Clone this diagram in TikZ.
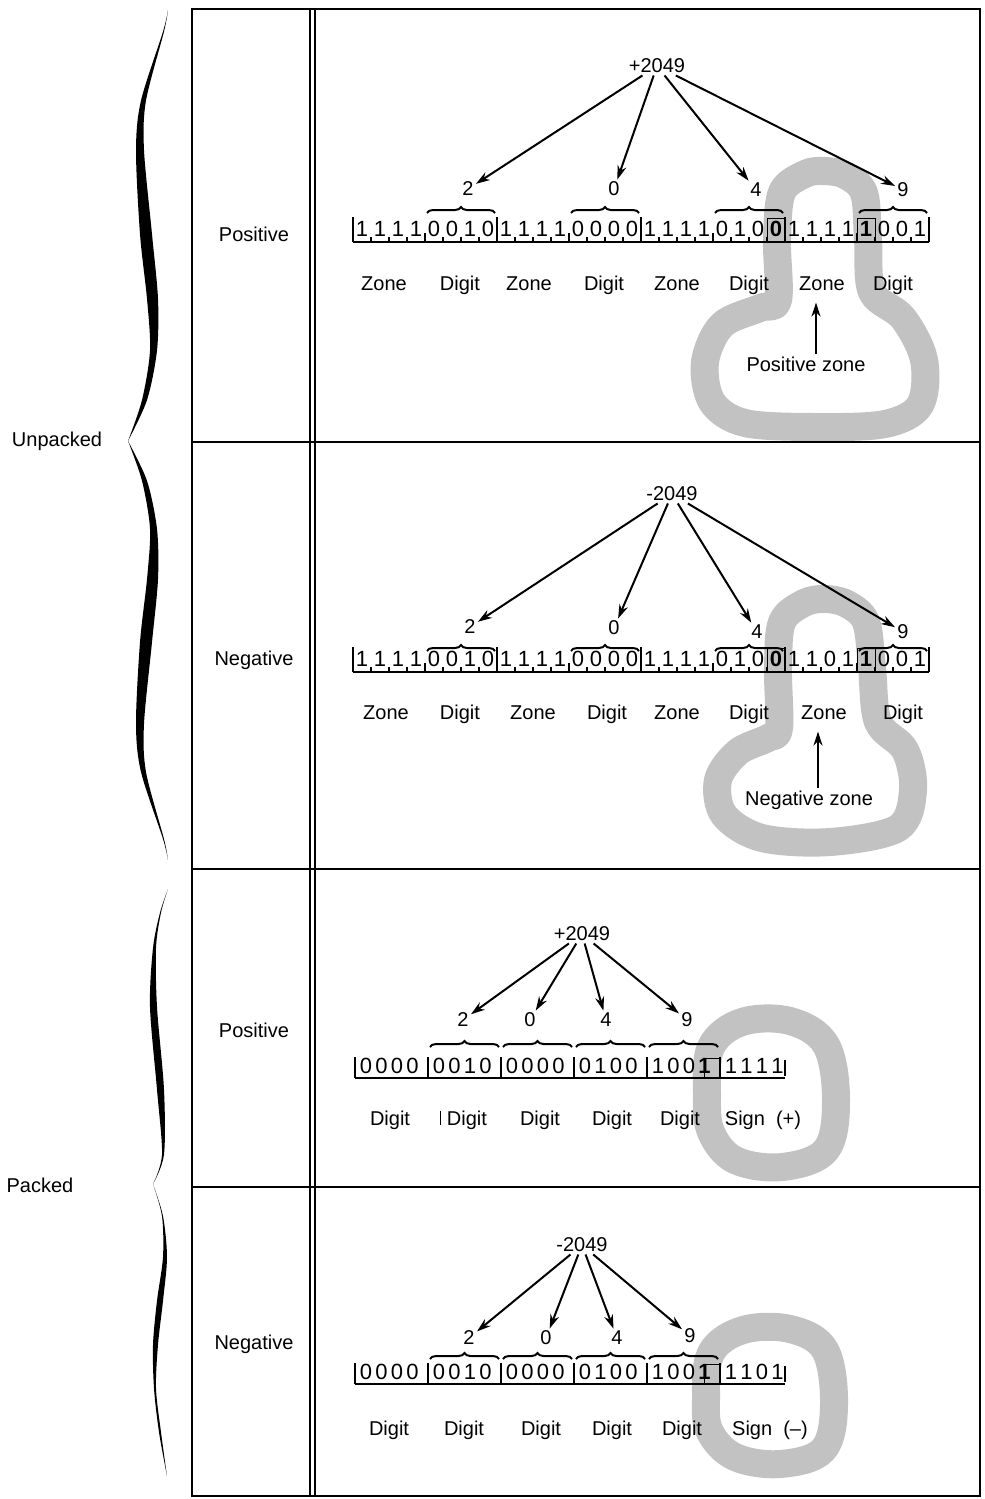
\documentclass[tikz,border=0pt]{standalone}
\usepackage{fontspec}
\setmainfont{Liberation Sans}
\usetikzlibrary{arrows.meta,decorations.pathreplacing}

\tikzset{
  lbl/.style={font=\fontsize{10}{12}\selectfont, inner sep=1pt},
  wlbl/.style={font=\fontsize{10}{12}\selectfont, inner sep=1pt, anchor=base},
  bit/.style={font=\fontsize{11}{13}\selectfont, inner sep=0pt},
  arr/.style={-{Stealth[length=7pt,width=4.5pt]}, line width=1pt},
  frameline/.style={line width=1.3pt},
  blob/.style={line width=14pt, draw=black!24, line join=round},
  nibbrace/.style={decorate, decoration={brace, amplitude=3pt}, line width=1pt},
  rowline/.style={line width=0.6pt},
  hilite/.style={line width=0.5pt},
}

\newcommand{\unpkrow}[3]{%
  \foreach \b [count=\k from 0] in {#3} {
    \pgfmathtruncatemacro\nbk{int(\k/4)}
    \pgfmathtruncatemacro\bik{mod(\k,4)}
    \pgfmathsetmacro\xx{353+72*\nbk+9+18*\bik}
    \node[bit, anchor=base] (#1-\k) at (\xx,#2) {\b};
  }
  \draw[rowline] (353,#2+6) -- (929,#2+6);
  \foreach \k in {0,...,32} {
    \pgfmathsetmacro\hh{mod(\k,8)==0 ? 25 : (mod(\k,4)==0 ? 9 : 5)}
    \draw[rowline] (353+18*\k,#2+6) -- ++(0,-\hh);
  }
}

\newcommand{\pkrow}[3]{%
  \foreach \b [count=\k from 0] in {#3} {
    \pgfmathtruncatemacro\nbk{int(\k/4)}
    \pgfmathtruncatemacro\bik{mod(\k,4)}
    \pgfmathsetmacro\xx{355+73*\nbk+11+15.5*\bik}
    \node[bit, anchor=base] (#1-\k) at (\xx,#2) {\b};
  }
  \draw[rowline] (355,#2+5) -- (785,#2+5);
  \foreach \i in {0,...,5} \draw[rowline] (355+73*\i,#2+5) -- ++(0,-21);
  \draw[rowline] (785,#2+3) -- ++(0,-16);
}

\begin{document}
\begin{tikzpicture}[x=0.5pt,y=-0.5pt]
\useasboundingbox (0,0) rectangle (985,1499);

% ---------- shaded blobs ----------
\draw[blob] plot[smooth cycle, tension=0.55] coordinates {(778,300) (777,240) (782,192) (805,174) (823,171) (845,175) (864,193) (868,240) (872,292) (903,318) (924,360) (920,405) (885,424) (815,427) (745,423) (712,402) (705,362) (722,325) (760,308)};
\draw[blob] plot[smooth cycle, tension=0.55] coordinates {(779,728) (778,668) (782,622) (804,603) (825,599) (847,604) (866,622) (872,668) (878,722) (905,750) (913,790) (898,828) (830,842) (762,838) (724,815) (718,780) (738,752) (768,738)};
\draw[blob] plot[smooth cycle, tension=0.6] coordinates {(707,1095) (711,1047) (742,1022) (790,1021) (826,1045) (836,1100) (826,1150) (782,1167) (735,1160) (711,1132)};
\draw[blob] plot[smooth cycle, tension=0.6] coordinates {(706,1400) (711,1353) (743,1330) (790,1329) (825,1350) (834,1405) (823,1450) (780,1464) (735,1457) (710,1432)};

% ---------- frame ----------
\draw[frameline] (192,9) rectangle (980,1496);
\draw[frameline] (192,442) -- (980,442);
\draw[frameline] (192,869) -- (980,869);
\draw[frameline] (192,1187) -- (980,1187);
\draw[line width=0.8pt] (310,9) -- (310,1496);
\draw[line width=0.8pt] (315,9) -- (315,1496);

% ---------- left braces ----------
\begin{scope}[shift={(128,441)}, yscale=431]
\fill plot[smooth] coordinates {(0,0) (14,-.095) (22,-.21) (19,-.33) (12,-.48) (8,-.675) (13,-.79) (35,-.95) (40,-1)} -- plot[smooth] coordinates {(40,-1) (36,-.95) (18,-.79) (16,-.675) (24,-.48) (30,-.33) (29,-.21) (19,-.095) (0,0)} -- cycle;
\end{scope}
\begin{scope}[shift={(128,441)}, yscale=-419]
\fill plot[smooth] coordinates {(0,0) (14,-.095) (22,-.21) (19,-.33) (12,-.48) (8,-.675) (13,-.79) (35,-.95) (40,-1)} -- plot[smooth] coordinates {(40,-1) (36,-.95) (18,-.79) (16,-.675) (24,-.48) (30,-.33) (29,-.21) (19,-.095) (0,0)} -- cycle;
\end{scope}
\begin{scope}[shift={(153,1184)}, yscale=295]
\fill plot[smooth] coordinates {(0,0) (9,-.1) (4,-.32) (-3,-.6) (0,-.8) (7,-.92) (15,-1)} -- plot[smooth] coordinates {(15,-1) (8,-.92) (3,-.8) (4,-.6) (11,-.32) (11,-.1) (0,0)} -- cycle;
\end{scope}
\begin{scope}[shift={(153,1184)}, yscale=292]
\fill plot[smooth] coordinates {(0,0) (9,.11) (10,.25) (4,.4) (0,.55) (1,.7) (6,.85) (14,1)} -- plot[smooth] coordinates {(14,1) (8,.85) (3,.7) (5,.55) (10,.4) (14,.25) (10,.11) (0,0)} -- cycle;
\end{scope}
\node[lbl] (unpacked) at (57,441) {Unpacked};
\node[lbl] (packed) at (40,1185) {Packed};

% ---------- row labels ----------
\node[lbl] (r1) at (254,234) {Positive};
\node[lbl] (r2) at (254,660) {Negative};
\node[lbl] (r3) at (254,1030) {Positive};
\node[lbl] (r4) at (254,1344) {Negative};

% ================= Panel 1 : unpacked positive =================
\node[lbl] (n1) at (657,66) {+2049};
\node[lbl] (a2) at (468,189) {2};
\node[lbl] (a0) at (614,189) {0};
\node[lbl] (a4) at (756,190) {4};
\node[lbl] (a9) at (903,190) {9};
\draw[arr] (n1) -- (a2);
\draw[arr] (n1) -- (a0);
\draw[arr] (n1) -- (a4);
\draw[arr] (n1) -- (a9);
\foreach \s in {425,569,713,857} \draw[nibbrace] (\s+2,213) -- (\s+70,213);
\unpkrow{p}{236}{1,1,1,1,0,0,1,0,1,1,1,1,0,0,0,0,1,1,1,1,0,1,0,\textbf{0},1,1,1,1,\textbf{1},0,0,1}
\draw[hilite] (767,218) rectangle (785,242);
\draw[hilite] (857,218) rectangle (875,242);
\foreach \x/\t [count=\i] in {384/Zone,460/Digit,529/Zone,604/Digit,677/Zone,749/Digit,822/Zone,893/Digit}
  \node[wlbl] (pl\i) at (\x,290) {\t};
\node[wlbl] (pz) at (806,371) {Positive zone};
\draw[arr] ([xshift=5pt]pz.north) -- ([xshift=-3pt,yshift=-5pt]pl7.south);

% ================= Panel 2 : unpacked negative =================
\node[lbl] (n2) at (672,494) {-2049};
\node[lbl] (b2) at (470,627) {2};
\node[lbl] (b0) at (614,628) {0};
\node[lbl] (b4) at (757,632) {4};
\node[lbl] (b9) at (903,632) {9};
\draw[arr] (n2) -- (b2);
\draw[arr] (n2) -- (b0);
\draw[arr] (n2) -- (b4);
\draw[arr] (n2) -- (b9);
\foreach \s in {425,569,713,857} \draw[nibbrace] (\s+2,651) -- (\s+70,651);
\unpkrow{q}{666}{1,1,1,1,0,0,1,0,1,1,1,1,0,0,0,0,1,1,1,1,0,1,0,\textbf{0},1,1,0,1,\textbf{1},0,0,1}
\draw[hilite] (767,648) rectangle (785,672);
\draw[hilite] (857,648) rectangle (875,672);
\foreach \x/\t [count=\i] in {386/Zone,460/Digit,533/Zone,607/Digit,677/Zone,749/Digit,824/Zone,903/Digit}
  \node[wlbl] (ql\i) at (\x,719) {\t};
\node[wlbl] (nz) at (809,805) {Negative zone};
\draw[arr] ([xshift=4.5pt]nz.north) -- ([xshift=-3pt,yshift=-5pt]ql7.south);

% ================= Panel 3 : packed positive =================
\node[lbl] (n3) at (582,934) {+2049};
\node[lbl] (c2) at (463,1020) {2};
\node[lbl] (c0) at (530,1020) {0};
\node[lbl] (c4) at (606,1020) {4};
\node[lbl] (c9) at (687,1020) {9};
\draw[arr] (n3) -- (c2);
\draw[arr] (n3) -- (c0);
\draw[arr] (n3) -- (c4);
\draw[arr] (n3) -- (c9);
\foreach \s in {428,501,574,647} \draw[nibbrace] (\s+2,1047) -- (\s+71,1047);
\pkrow{r}{1073}{0,0,0,0,0,0,1,0,0,0,0,0,0,1,0,0,1,0,0,\textbf{1},1,1,1,1}
\draw[hilite] (704,1058) rectangle (720,1078);
\foreach \x/\t [count=\i] in {390/Digit,467/Digit,540/Digit,612/Digit,680/Digit,763/{Sign\ \ (+)}}
  \node[wlbl] (rl\i) at (\x,1125) {\t};
\draw[line width=0.4pt] (440,1111) -- (440,1125);

% ================= Panel 4 : packed negative =================
\node[lbl] (n4) at (582,1245) {-2049};
\node[lbl] (e2) at (469,1338) {2};
\node[lbl] (e0) at (546,1338) {0};
\node[lbl] (e4) at (617,1338) {4};
\node[lbl] (e9) at (690,1336) {9};
\draw[arr] (n4) -- (e2);
\draw[arr] (n4) -- (e0);
\draw[arr] (n4) -- (e4);
\draw[arr] (n4) -- (e9);
\foreach \s in {428,501,574,647} \draw[nibbrace] (\s+2,1359) -- (\s+71,1359);
\pkrow{s}{1379}{0,0,0,0,0,0,1,0,0,0,0,0,0,1,0,0,1,0,0,\textbf{1},1,1,0,1}
\draw[hilite] (704,1364) rectangle (720,1384);
\foreach \x/\t [count=\i] in {389/Digit,464/Digit,541/Digit,612/Digit,682/Digit,770/{Sign\ \ (--)}}
  \node[wlbl] (sl\i) at (\x,1435) {\t};
\end{tikzpicture}
\end{document}
